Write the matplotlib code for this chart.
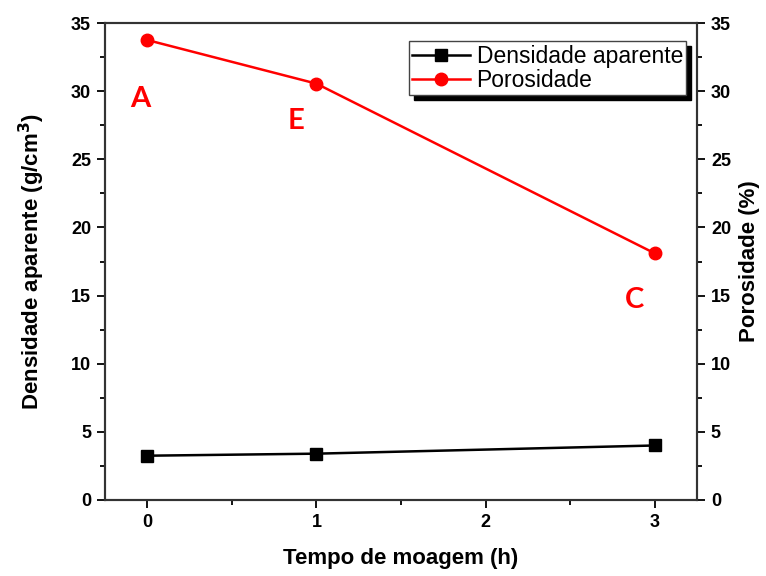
import matplotlib.pyplot as plt
from matplotlib.ticker import MultipleLocator

plt.rcParams['font.family'] = ['Liberation Sans', 'DejaVu Sans']

# data
tempo = [0, 1, 3]
densidade = [3.25, 3.4, 4.0]
porosidade = [33.75, 30.55, 18.1]

# sample labels
letras = ['A', 'E', 'C']
letra_x = [-0.04, 0.88, 2.88]
letra_y = [29.4, 27.8, 14.7]

fig = plt.figure(figsize=(7.66, 5.76), dpi=100)
ax = fig.add_axes([105/766, 76/576, 592/766, 477/576])
ax2 = ax.twinx()

l1, = ax.plot(tempo, densidade, color='black', marker='s', markersize=8,
              linewidth=1.8, label='Densidade aparente')
l2, = ax2.plot(tempo, porosidade, color='red', marker='o', markersize=9,
               linewidth=1.8, label='Porosidade')

for t, xx, yy in zip(letras, letra_x, letra_y):
    ax.text(xx, yy, t, color='red', fontsize=21, fontweight='bold',
            family='Lato', ha='center', va='center')

ax.set_xlim(-0.25, 3.25)
ax.set_ylim(0, 35)
ax2.set_ylim(0, 35)
ax.set_xticks([0, 1, 2, 3])
ax.xaxis.set_minor_locator(MultipleLocator(0.5))
for a in (ax, ax2):
    a.yaxis.set_major_locator(MultipleLocator(5))
    a.yaxis.set_minor_locator(MultipleLocator(2.5))
    a.tick_params(which='major', direction='out', length=6, width=1.3,
                  labelsize=13, pad=4)
    a.tick_params(which='minor', direction='out', length=3.5, width=1.3)
    for lab in a.get_yticklabels() + a.get_xticklabels():
        lab.set_fontweight('bold')
    for s in a.spines.values():
        s.set_linewidth(1.5)
        s.set_color('#333333')

ax.set_xlabel('Tempo de moagem (h)', fontsize=16, fontweight='bold', labelpad=12)
ax.set_ylabel('Densidade aparente (g/cm$^\\mathbf{3}$)', fontsize=16,
              fontweight='bold', labelpad=17)
ax2.set_ylabel('Porosidade (%)', fontsize=16, fontweight='bold', labelpad=6)

leg = ax2.legend(handles=[l1, l2], loc='upper right', fontsize=16.5,
                 bbox_to_anchor=(0.982, 0.962), fancybox=False,
                 shadow={'color': 'black', 'alpha': 1, 'ox': 3.5, 'oy': -3.5},
                 borderpad=0.15, handlelength=2.5, handletextpad=0.3,
                 labelspacing=0.05, borderaxespad=0)
leg.get_frame().set_edgecolor('#444444')
leg.get_frame().set_linewidth(1.0)

fig.savefig('out.png', dpi=100)
